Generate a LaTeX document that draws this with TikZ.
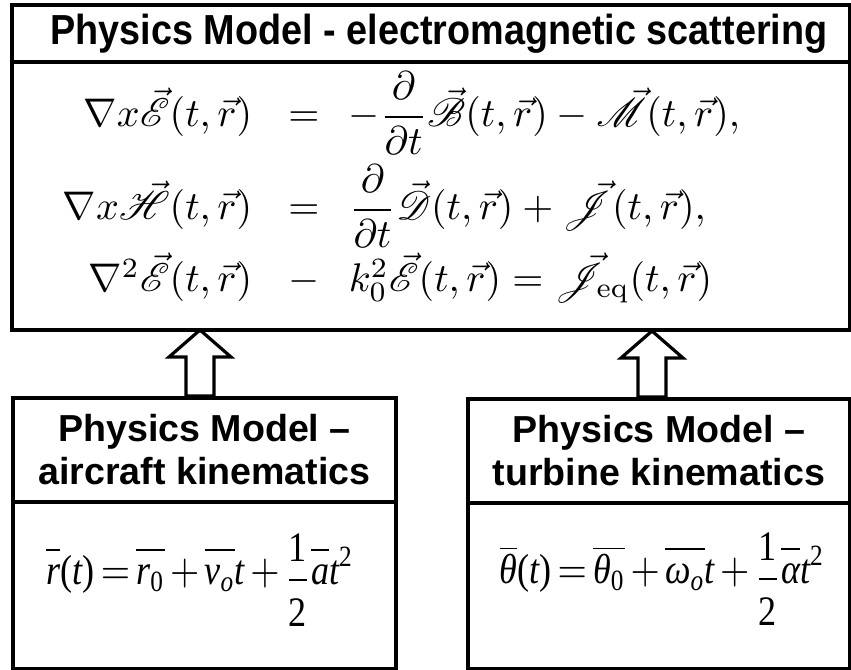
\documentclass[tikz,border=0pt]{standalone}
\usepackage{amsmath}
\usepackage{mathrsfs}
\usepackage{graphicx}
\usepackage{fontspec}
\setsansfont{Liberation Sans}
\newfontfamily\tnr{Liberation Serif}
\newfontfamily\hdfont[FakeStretch=0.9]{Liberation Sans}
\usetikzlibrary{calc}
\newcommand{\ti}[1]{\text{\tnr\itshape #1}}
\newcommand{\tu}[1]{\text{\tnr #1}}
\newcommand{\ob}[1]{\overline{#1\vphantom{\tu{l}}}}
\newcommand{\kinsp}{\medmuskip=2.5mu\relax\thickmuskip=3mu\relax\displaystyle}
\newcommand{\half}{\raisebox{-1.5pt}{$\displaystyle\frac{\tu{1}}{\tu{2}\rule{0pt}{10.1pt}}$}}
\begin{document}
\begin{tikzpicture}[x=0.25pt,y=-0.25pt,
  box/.style={draw, line width=1pt, inner sep=0pt, anchor=north west, align=center},
  tophead/.style={font=\hdfont\bfseries\fontsize{10.5}{12}\selectfont},
  headfont/.style={font=\sffamily\bfseries\fontsize{9.4}{10.75}\selectfont},
  eqfont/.style={font=\fontsize{10}{12}\selectfont, inner sep=0pt},
  kinfont/.style={font=\fontsize{10.5}{12}\selectfont, inner sep=0pt, anchor=base},
  barrow/.style={draw, line width=0.8pt, fill=white, line join=miter}]
\useasboundingbox (0,0) rectangle (851,670);

% top box
\node[box, tophead, minimum width=209.5pt, minimum height=14.25pt] (emhead) at (10,3)
  {\hspace*{4pt}Physics Model - electromagnetic scattering};
\node[box, minimum width=209.5pt, minimum height=67pt] (embody) at (10,60) {};

% equations
\node[eqfont, anchor=base east] (l1) at (253,127) {$\nabla x\vec{\mathscr{E}}(t,\vec{r})$};
\node[eqfont, anchor=base] (o1) at (304,127) {$=$};
\node[eqfont, anchor=base west] (r1) at (348,127) {$-\dfrac{\partial}{\partial t}\vec{\mathscr{B}}(t,\vec{r})-\vec{\mathscr{M}}(t,\vec{r}),$};
\node[eqfont, anchor=base east] (l2) at (253,220) {$\nabla x\vec{\mathscr{H}}(t,\vec{r})$};
\node[eqfont, anchor=base] (o2) at (304,220) {$=$};
\node[eqfont, anchor=base west] (r2) at (348,220) {$\dfrac{\partial}{\partial t}\vec{\mathscr{D}}(t,\vec{r})+\vec{\mathscr{J}}(t,\vec{r}),$};
\node[eqfont, anchor=base east] (l3) at (253,292) {$\nabla^2\vec{\mathscr{E}}(t,\vec{r})$};
\node[eqfont, anchor=base] (o3) at (304,292) {$-$};
\node[eqfont, anchor=base west] (r3) at (348,292) {$k_0^2\vec{\mathscr{E}}(t,\vec{r})=\vec{\mathscr{J}}_{\mathrm{eq}}(t,\vec{r})$};

% bottom left box
\node[box, headfont, minimum width=95.75pt, minimum height=26pt] (achead) at (11,396)
  {Physics Model --\\aircraft kinematics};
\node[box, minimum width=95.75pt, minimum height=41.75pt] (acbody) at (11,500) {};
\node[kinfont] (acfor) at (200,585)
  {\scalebox{0.86}[1]{$\kinsp\ob{\ti{r}}\tu{(}\ti{t}\tu{)}=\ob{\ti{r}_{\tu{0}}}+\ob{\ti{v}_{\ti{o}}}\ti{t}+\half\ob{\ti{a}}\ti{t}^{\tu{2}}$}};

% bottom right box
\node[box, headfont, minimum width=95.5pt, minimum height=26pt] (tbhead) at (466,397)
  {Physics Model --\\turbine kinematics};
\node[box, minimum width=95.5pt, minimum height=41.5pt] (tbbody) at (466,501) {};
\node[kinfont] (tbfor) at (662,584)
  {\scalebox{0.86}[1]{$\kinsp\ob{\ti{θ}}\tu{(}\ti{t}\tu{)}=\ob{\ti{θ}_{\tu{0}}}+\ob{\ti{ω}_{\ti{o}}}\ti{t}+\half\ob{\ti{α}}\ti{t}^{\tu{2}}$}};

% block arrows
\coordinate (aL) at (achead.north -| 200,0);
\coordinate (aR) at (tbhead.north -| 652,0);
\draw[barrow, shift={(aL)}] (-14,0) -- (-14,-39) -- (-31,-39) -- (0,-66) -- (31,-39) -- (14,-39) -- (14,0) -- cycle;
\draw[barrow, shift={(aR)}] (-14,0) -- (-14,-39) -- (-31,-39) -- (0,-66) -- (31,-39) -- (14,-39) -- (14,0) -- cycle;
\end{tikzpicture}
\end{document}
